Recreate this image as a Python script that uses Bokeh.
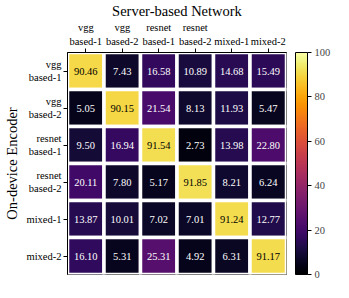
from bokeh.plotting import figure
from bokeh.models import ColumnDataSource, FactorRange, LinearColorMapper, ColorBar, FixedTicker, Title
from bokeh.transform import transform
from bokeh.core.properties import value
from bokeh.palettes import Inferno256
from bokeh.embed import file_html
from bokeh.resources import INLINE

server_labels = ["vgg\nbased-1", "vgg\nbased-2", "resnet\nbased-1", "resnet\nbased-2", "mixed-1", "mixed-2"]
device_labels = ["vgg\nbased-1", "vgg\nbased-2", "resnet\nbased-1", "resnet\nbased-2", "mixed-1", "mixed-2"]

row_vgg1 = [90.46, 7.43, 16.58, 10.89, 14.68, 15.49]
row_vgg2 = [5.05, 90.15, 21.54, 8.13, 11.93, 5.47]
row_res1 = [9.50, 16.94, 91.54, 2.73, 13.98, 22.80]
row_res2 = [20.11, 7.80, 5.17, 91.85, 8.21, 6.24]
row_mix1 = [13.87, 10.01, 7.02, 7.01, 91.24, 12.77]
row_mix2 = [16.10, 5.31, 25.31, 4.92, 6.31, 91.17]
matrix = [row_vgg1, row_vgg2, row_res1, row_res2, row_mix1, row_mix2]

colorbar_ticks = [0, 20, 40, 60, 80, 100]

xs, ys, vals, labels, tcolors = [], [], [], [], []
for i, dev in enumerate(device_labels):
    for j, srv in enumerate(server_labels):
        v = matrix[i][j]
        xs.append(srv)
        ys.append(dev)
        vals.append(v)
        labels.append("%.2f" % v)
        tcolors.append("black" if v > 50 else "white")

src = ColumnDataSource(dict(x=xs, y=ys, val=vals, label=labels, tcolor=tcolors))

mapper = LinearColorMapper(palette=Inferno256, low=0, high=100)

FONT = "Liberation Serif"

p = figure(width=333, height=282,
           x_range=FactorRange(factors=server_labels),
           y_range=FactorRange(factors=list(reversed(device_labels))),
           x_axis_location="above",
           output_backend="svg", toolbar_location=None,
           min_border_left=51, min_border_right=0, min_border_top=0, min_border_bottom=8)

p.rect(x="x", y="y", width=1, height=1, source=src,
       fill_color=transform("val", mapper), line_color="white", line_width=3.5)
p.text(x="x", y="y", text="label", source=src, text_color="tcolor",
       text_align="center", text_baseline="middle",
       text_font=value(FONT), text_font_size="10.5px")

p.xgrid.visible = False
p.ygrid.visible = False
p.outline_line_color = "black"
p.outline_line_width = 1
p.outline_line_alpha = 1
p.x_range.range_padding = 0
p.y_range.range_padding = 0

for ax in (p.xaxis[0], p.yaxis[0]):
    ax.major_label_text_font = FONT
    ax.major_label_text_font_size = "10.5px"
    ax.major_label_text_color = "black"
    ax.axis_label_text_font = FONT
    ax.axis_label_text_font_size = "14.5px"
    ax.axis_label_text_font_style = "normal"
    ax.axis_label_text_color = "black"
    ax.axis_line_color = "black"
    ax.major_tick_line_color = "black"
    ax.major_tick_out = 4
    ax.major_tick_in = 0
    ax.minor_tick_line_color = None
    ax.major_label_standoff = 2

p.xaxis.axis_label_standoff = 0
p.yaxis.axis_label_standoff = 4

p.xaxis.axis_label = "Server-based Network"
p.yaxis.axis_label = "On-device Encoder"

# empty spacer between the heatmap frame and the colour bar
spacer = Title(text=" ", text_font_size="1px", standoff=6, offset=0)
p.add_layout(spacer, "right")

cb = ColorBar(color_mapper=mapper, width=12, padding=0, margin=0,
              ticker=FixedTicker(ticks=colorbar_ticks),
              major_label_text_font=FONT, major_label_text_font_size="10.5px",
              major_tick_out=4, major_tick_in=0, major_tick_line_color="black",
              bar_line_color="black", border_line_color=None,
              background_fill_alpha=0,
              label_standoff=3)
p.add_layout(cb, "right")

open("out.html", "w").write(file_html(p, INLINE))
